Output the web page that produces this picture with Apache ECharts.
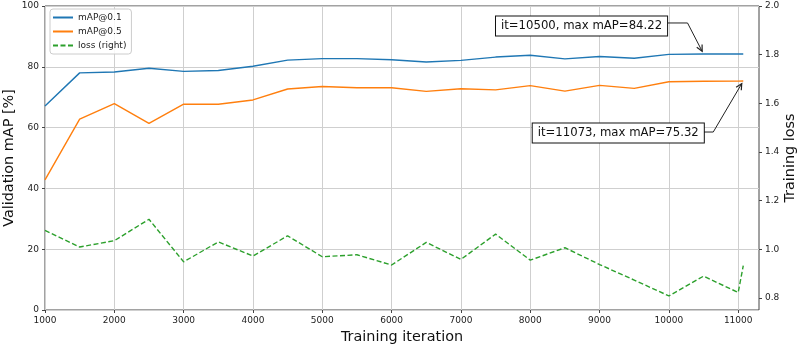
<!DOCTYPE html>
<html>
<head>
<meta charset="utf-8">
<script src="https://cdn.jsdelivr.net/npm/echarts@6.0.0/dist/echarts.min.js"></script>
<style>
  html, body { margin: 0; padding: 0; background: #fff; }
  #main { width: 803px; height: 349px; }
</style>
</head>
<body>
<div id="main"></div>
<script>
// iterations where validation was run
const iterations = [1000, 1500, 2000, 2500, 3000, 3500, 4000, 4500, 5000, 5500, 6000,
  6500, 7000, 7500, 8000, 8500, 9000, 9500, 10000, 10500, 11000, 11073];
const map01 = [67.1, 78.0, 78.3, 79.5, 78.5, 78.8, 80.2, 82.2, 82.7, 82.7, 82.3,
  81.6, 82.1, 83.2, 83.8, 82.6, 83.4, 82.8, 84.1, 84.22, 84.2, 84.2];
const map05 = [42.8, 62.8, 67.9, 61.4, 67.7, 67.7, 69.1, 72.7, 73.5, 73.1, 73.1,
  71.9, 72.8, 72.4, 73.8, 72.0, 73.9, 72.9, 75.1, 75.25, 75.3, 75.32];
const loss = [1.077, 1.009, 1.035, 1.123, 0.948, 1.030, 0.972, 1.055, 0.969, 0.977, 0.935,
  1.028, 0.958, 1.062, 0.955, 1.006, 0.937, 0.873, 0.808, 0.889, 0.822, 0.932];

const xTicks = [1000, 2000, 3000, 4000, 5000, 6000, 7000, 8000, 9000, 10000, 11000];
const lossTicks = [0.8, 1.0, 1.2, 1.4, 1.6, 1.8, 2.0];

// annotations: [x, y, text]
const annotX = [10500, 11073];
const annotY = [84.22, 75.32];
const annotText = ['it=10500, max mAP=84.22', 'it=11073, max mAP=75.32'];

const FONT = 'DejaVu Sans';
const pairs = (ys) => iterations.map((x, i) => [x, ys[i]]);

const chart = echarts.init(document.getElementById('main'));

const option = {
  animation: false,
  backgroundColor: '#fff',
  textStyle: {fontFamily: FONT},
  grid: {
    left: 45, right: 44, top: 6, bottom: 39,
    outerBoundsMode: 'none',
    containLabel: false,
    show: true, borderColor: '#444', borderWidth: 1
  },
  legend: {
    left: 50, top: 9,
    orient: 'vertical',
    itemWidth: 20, itemHeight: 9, itemGap: 5,
    padding: [4, 5, 4, 2],
    backgroundColor: 'rgba(255,255,255,0.85)',
    borderColor: '#cccccc', borderWidth: 1, borderRadius: 3,
    itemStyle: {opacity: 0},
    textStyle: {fontFamily: FONT, fontSize: 9, color: '#222'},
    data: ['mAP@0.1', 'mAP@0.5', 'loss (right)']
  },
  xAxis: {
    type: 'value',
    min: 1000, max: 11300, interval: 1000,
    name: 'Training iteration',
    nameLocation: 'middle', nameGap: 20, nameMoveOverlap: false,
    nameTextStyle: {fontFamily: FONT, fontSize: 14.4, color: '#111'},
    axisLine: {show: false},
    axisTick: {show: true, inside: false, length: 3, customValues: xTicks, lineStyle: {color: '#444'}},
    axisLabel: {
      customValues: xTicks, margin: 6, fontFamily: FONT, fontSize: 9, color: '#222',
      formatter: (v) => String(v)
    },
    splitLine: {show: true, lineStyle: {color: '#cfcfcf', width: 1}}
  },
  yAxis: [
    {
      type: 'value', position: 'left',
      min: 0, max: 100, interval: 20,
      name: 'Validation mAP [%]',
      nameLocation: 'middle', nameGap: 29, nameMoveOverlap: false,
      nameTextStyle: {fontFamily: FONT, fontSize: 14.4, color: '#111'},
      axisLine: {show: false},
      axisTick: {show: true, inside: false, length: 3, lineStyle: {color: '#444'}},
      axisLabel: {margin: 6, fontFamily: FONT, fontSize: 9, color: '#222'},
      splitLine: {show: true, lineStyle: {color: '#cfcfcf', width: 1}}
    },
    {
      type: 'value', position: 'right',
      min: 0.75, max: 2.0,
      name: 'Training loss',
      nameLocation: 'middle', nameGap: 24, nameRotate: 90, nameMoveOverlap: false,
      nameTextStyle: {fontFamily: FONT, fontSize: 14.4, color: '#111'},
      axisLine: {show: false},
      axisTick: {show: true, inside: false, length: 3, customValues: lossTicks, lineStyle: {color: '#444'}},
      axisLabel: {
        customValues: lossTicks, margin: 6, fontFamily: FONT, fontSize: 9, color: '#222',
        formatter: (v) => v.toFixed(1)
      },
      splitLine: {show: false}
    }
  ],
  series: [
    {
      name: 'mAP@0.1', type: 'line', yAxisIndex: 0,
      data: pairs(map01), symbol: 'none',
      lineStyle: {color: '#1f77b4', width: 1.4},
      itemStyle: {color: '#1f77b4'}
    },
    {
      name: 'mAP@0.5', type: 'line', yAxisIndex: 0,
      data: pairs(map05), symbol: 'none',
      lineStyle: {color: '#ff7f0e', width: 1.4},
      itemStyle: {color: '#ff7f0e'}
    },
    {
      name: 'loss (right)', type: 'line', yAxisIndex: 1,
      data: pairs(loss), symbol: 'none',
      lineStyle: {color: '#2ca02c', width: 1.4, type: [5, 2.5]},
      itemStyle: {color: '#2ca02c'}
    }
  ]
};
chart.setOption(option);

// annotation boxes placed in pixel offsets from the annotated point (like offset points)
const boxOffset = [[-122, -28], [-125, 52]];
const bendOffset = [[-16, -31], [-30, 51]];
const tipGap = 3;

const graphics = [];
annotX.forEach((x, i) => {
  const p = chart.convertToPixel({xAxisIndex: 0, yAxisIndex: 0}, [x, annotY[i]]);
  const cx = p[0] + boxOffset[i][0];
  const cy = p[1] + boxOffset[i][1];
  const bend = [p[0] + bendOffset[i][0], p[1] + bendOffset[i][1]];
  // tip: stop a little short of the point
  const dx = p[0] - bend[0], dy = p[1] - bend[1];
  const len = Math.sqrt(dx * dx + dy * dy);
  const ux = dx / len, uy = dy / len;
  const tip = [p[0] - ux * tipGap, p[1] - uy * tipGap];
  const txt = new echarts.graphic.Text({
    style: {text: annotText[i], font: '11.7px "DejaVu Sans"'}
  });
  const w = txt.getBoundingRect().width + 10;
  graphics.push({
    type: 'polyline', z: 10,
    shape: {points: [[cx + w / 2, bend[1]], bend, tip]},
    style: {stroke: '#222', lineWidth: 1, fill: null}
  });
  const hl = 6, hw = 3;
  const base = [tip[0] - ux * hl, tip[1] - uy * hl];
  graphics.push({
    type: 'polyline', z: 10,
    shape: {points: [
      [base[0] - uy * hw, base[1] + ux * hw], tip, [base[0] + uy * hw, base[1] - ux * hw]
    ]},
    style: {stroke: '#222', lineWidth: 1.2, fill: null}
  });
  graphics.push({
    type: 'text', z: 11,
    x: cx, y: cy,
    style: {
      text: annotText[i],
      font: '11.7px "DejaVu Sans"',
      fill: '#111',
      align: 'center', verticalAlign: 'middle',
      backgroundColor: '#fff',
      borderColor: '#111', borderWidth: 1,
      padding: [4, 5, 3, 5]
    }
  });
});
chart.setOption({graphic: graphics});
</script>
</body>
</html>
